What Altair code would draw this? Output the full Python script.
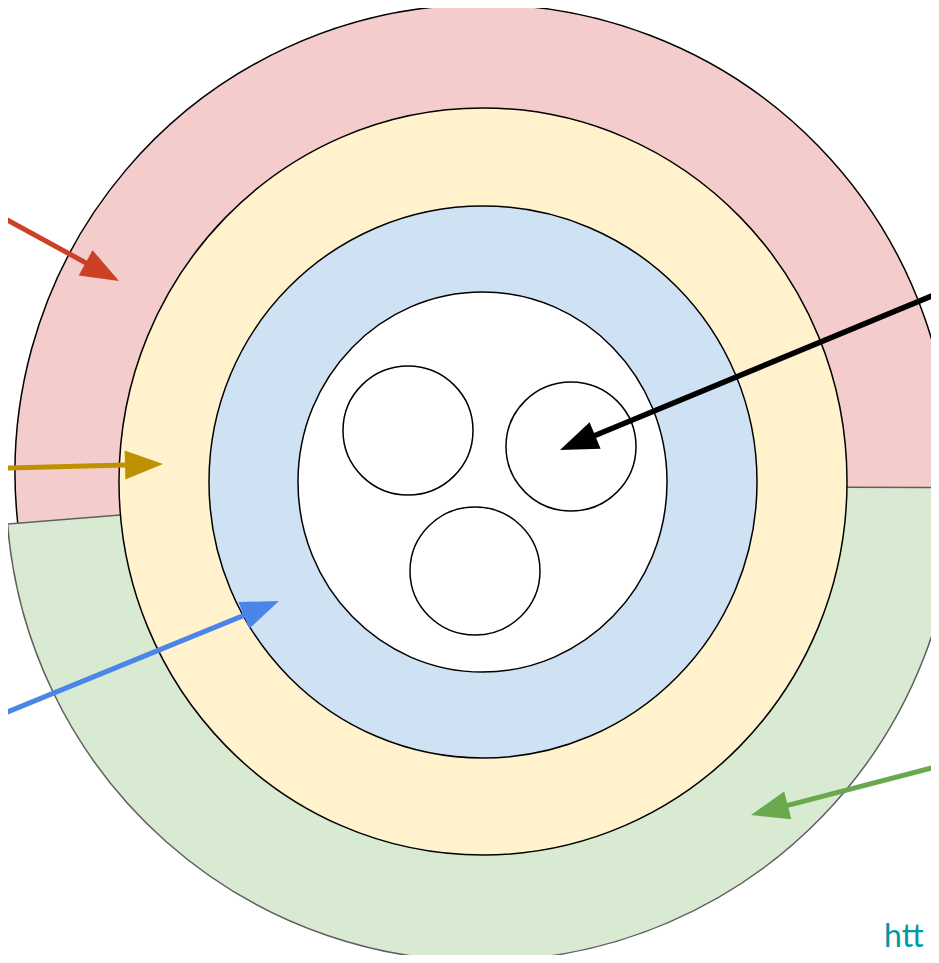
import altair as alt
import numpy as np
import pandas as pd

# ---- data (reference pixel coordinates) ----
# half rings (outer red and green bands)
ring_name = ["red", "green"]
ring_cx = [483, 481]
ring_cy = [472.5, 486]
ring_r = [468, 475]
ring_start_deg = [262.5, 90.2]
ring_end_deg = [453.5, 265.4]
ring_fill = ["#f4cccc", "#d9ead3"]
ring_stroke = ["#000000", "#5f5f5f"]

# filled discs drawn on top (ellipse-ish circles)
disc_name = ["yellow", "blue", "white", "small1", "small2", "small3"]
disc_cx = [483, 483, 482.5, 408, 571, 475]
disc_cy = [481.5, 482, 482, 430.5, 446.5, 571]
disc_w = [728, 548, 369, 130, 130, 130]
disc_h = [747, 552, 380, 129, 129, 128]
disc_fill = ["#fff2cc", "#cfe2f3", "#ffffff", "#ffffff", "#ffffff", "#ffffff"]

# arrows: tail and tip
arrow_color = ["#cc4125", "#bf9000", "#4a86e8", "#000000", "#6aa84f"]
tail_x = [-10, -10, -10, 950, 950]
tail_y = [210.5, 468.6, 719.1, 288.4, 763.2]
tip_x = [119, 163, 279, 560, 751]
tip_y = [281, 464, 601, 450, 815]
arrow_width = [5, 5, 5, 5.5, 5]

label_text = ["htt"]
label_x = [884]
label_y = [947]

# ---- layout ----
W, H = 923, 947
xs = alt.Scale(domain=[8, 8 + W], nice=False, zero=False)
ys = alt.Scale(domain=[8, 8 + H], nice=False, zero=False, reverse=True)


def ellipse_path(ratio):
    k = 0.5523
    rx, ry = ratio, 1.0
    f = lambda v: f"{v:.4f}"
    return (
        f"M{f(rx)},0 C{f(rx)},{f(k*ry)} {f(k*rx)},{f(ry)} 0,{f(ry)} "
        f"C{f(-k*rx)},{f(ry)} {f(-rx)},{f(k*ry)} {f(-rx)},0 "
        f"C{f(-rx)},{f(-k*ry)} {f(-k*rx)},{f(-ry)} 0,{f(-ry)} "
        f"C{f(k*rx)},{f(-ry)} {f(rx)},{f(-k*ry)} {f(rx)},0 Z"
    )


rings = pd.DataFrame({
    "name": ring_name, "cx": ring_cx, "cy": ring_cy, "r": ring_r,
    "t0": np.deg2rad(ring_start_deg), "t1": np.deg2rad(ring_end_deg),
    "fill": ring_fill, "stroke": ring_stroke,
})

layers = []
for i in range(len(ring_name)):
    d = rings.iloc[[i]]
    layers.append(
        alt.Chart(d).mark_arc(strokeWidth=1.5).encode(
            x=alt.X("cx:Q", scale=xs, axis=None),
            y=alt.Y("cy:Q", scale=ys, axis=None),
            theta=alt.Theta("t0:Q", scale=None, stack=None),
            theta2="t1:Q",
            radius=alt.Radius("r:Q", scale=None),
            fill=alt.Fill("fill:N", scale=None),
            stroke=alt.Stroke("stroke:N", scale=None),
        )
    )

for i in range(len(disc_name)):
    d = pd.DataFrame({"cx": [disc_cx[i]], "cy": [disc_cy[i]]})
    shape = ellipse_path(disc_w[i] / disc_h[i])
    layers.append(
        alt.Chart(d).mark_point(
            shape=shape, size=disc_h[i] ** 2, filled=True, opacity=1,
            fill=disc_fill[i], stroke="#000000", strokeWidth=1.5,
        ).encode(
            x=alt.X("cx:Q", scale=xs, axis=None),
            y=alt.Y("cy:Q", scale=ys, axis=None),
        )
    )

# arrow shafts end inside the heads
tx, ty = np.array(tail_x, float), np.array(tail_y, float)
px, py = np.array(tip_x, float), np.array(tip_y, float)
dx, dy = px - tx, py - ty
L = np.hypot(dx, dy)
ux, uy = dx / L, dy / L
ang = (np.degrees(np.arctan2(dx, -dy)) + 360) % 360
arrows = pd.DataFrame({
    "x": tx, "y": ty, "x2": px - 28 * ux, "y2": py - 28 * uy,
    "tipx": px, "tipy": py, "ang": ang, "color": arrow_color, "w": arrow_width,
})

layers.append(
    alt.Chart(arrows).mark_rule(strokeCap="butt").encode(
        x=alt.X("x:Q", scale=xs, axis=None),
        y=alt.Y("y:Q", scale=ys, axis=None),
        x2="x2:Q", y2="y2:Q",
        color=alt.Color("color:N", scale=None),
        strokeWidth=alt.StrokeWidth("w:Q", scale=None),
    )
)

head = "M0,0 L-0.36,0.95 L0.36,0.95 Z"
layers.append(
    alt.Chart(arrows).mark_point(
        shape=head, size=6400, filled=True, opacity=1, strokeWidth=0,
    ).encode(
        x=alt.X("tipx:Q", scale=xs, axis=None),
        y=alt.Y("tipy:Q", scale=ys, axis=None),
        angle=alt.Angle("ang:Q", scale=None),
        fill=alt.Fill("color:N", scale=None),
    )
)

labels = pd.DataFrame({"t": label_text, "x": label_x, "y": label_y})
layers.append(
    alt.Chart(labels).mark_text(
        align="left", baseline="alphabetic", font="Lato", fontSize=32,
        color="#0097a7",
    ).encode(
        x=alt.X("x:Q", scale=xs, axis=None),
        y=alt.Y("y:Q", scale=ys, axis=None),
        text="t:N",
    )
)

chart = alt.layer(*layers).properties(
    width=W, height=H, padding=0, autosize=alt.AutoSizeParams(type="none"),
).configure_view(stroke=None)

chart.save("out.html", embed_options={"renderer": "svg", "actions": False})
